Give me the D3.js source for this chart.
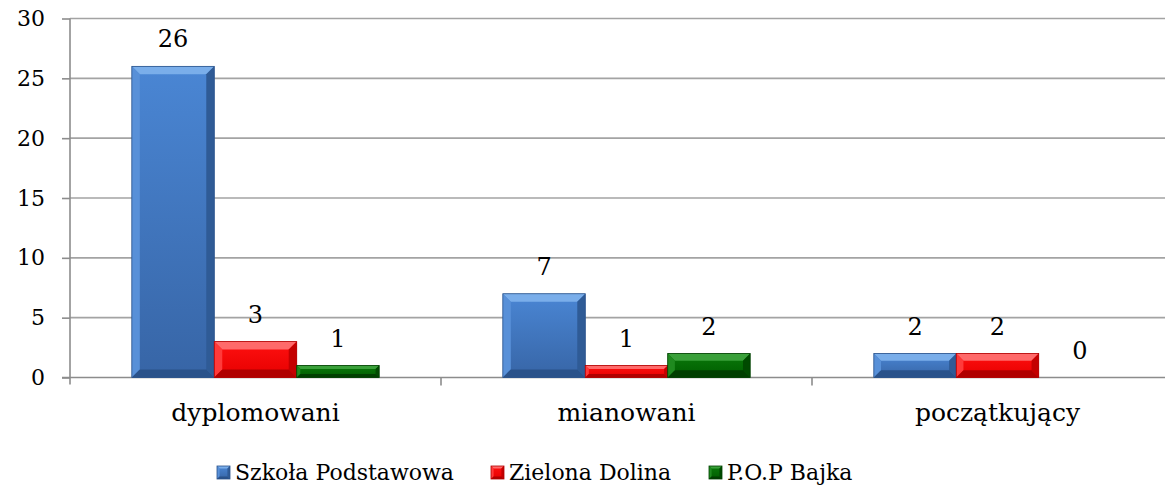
<!DOCTYPE html>
<html>
<head>
<meta charset="utf-8">
<script src="https://cdn.jsdelivr.net/npm/d3@7"></script>
<style>
  body { margin: 0; background: #fff; }
  text { font-family: "DejaVu Serif", serif; fill: #000; }
</style>
</head>
<body>
<div id="chart"></div>
<script>
// data
const categories = ["dyplomowani", "mianowani", "początkujący"];
const seriesNames = ["Szkoła Podstawowa", "Zielona Dolina", "P.O.P Bajka"];
const szkola  = [26, 7, 2];
const zielona = [3, 1, 2];
const bajka   = [1, 2, 0];
const yTicks  = [0, 5, 10, 15, 20, 25, 30];

const seriesValues = [szkola, zielona, bajka];

// colours per series: face top, face bottom, top bevel, left bevel, right bevel, bottom bevel
const palette = [
  {top: "#4a86d4", bot: "#3765a6", tb: "#7aaeea", lb: "#5890d8", rb: "#2f5b96", bb: "#2a528a"},
  {top: "#ff1010", bot: "#e60000", tb: "#ff6a6a", lb: "#ff3a3a", rb: "#c40000", bb: "#b00000"},
  {top: "#0a7a0a", bot: "#005c00", tb: "#3aa03a", lb: "#1f8a1f", rb: "#004a00", bb: "#003f00"}
];

const W = 1165, H = 488;
const plot = {left: 70, right: 1183, top: 18.5, bottom: 377.5};

const svg = d3.select("#chart").append("svg")
  .attr("width", W).attr("height", H);

const defs = svg.append("defs");
palette.forEach((p, i) => {
  const g = defs.append("linearGradient")
    .attr("id", "face" + i)
    .attr("x1", 0).attr("y1", 0).attr("x2", 0).attr("y2", 1);
  g.append("stop").attr("offset", "0%").attr("stop-color", p.top);
  g.append("stop").attr("offset", "100%").attr("stop-color", p.bot);
});

const x0 = d3.scaleBand()
  .domain(categories)
  .range([plot.left, plot.right])
  .paddingInner(0).paddingOuter(0);

const x1 = d3.scaleBand()
  .domain(seriesNames)
  .range([0, x0.bandwidth()])
  .paddingInner(0).paddingOuter(0.75);

const y = d3.scaleLinear()
  .domain([0, 30])
  .range([plot.bottom, plot.top]);

// gridlines
svg.append("g")
  .selectAll("line")
  .data(yTicks.filter(t => t > 0))
  .enter().append("line")
    .attr("x1", plot.left).attr("x2", W)
    .attr("y1", d => y(d)).attr("y2", d => y(d))
    .attr("stroke", "#a3a3a3")
    .attr("stroke-width", 1.6);

// y axis
const yAxis = svg.append("g")
  .attr("transform", `translate(${plot.left},0)`)
  .call(d3.axisLeft(y).tickValues(yTicks).tickSize(8).tickPadding(17).tickFormat(d3.format("d")));
yAxis.select(".domain")
  .attr("d", `M0,${plot.top}V${plot.bottom + 7}`)
  .attr("stroke", "#8c8c8c").attr("stroke-width", 1.6);
yAxis.selectAll(".tick line").attr("stroke", "#8c8c8c").attr("stroke-width", 1.6);
yAxis.selectAll(".tick text")
  .style("font-family", "'DejaVu Serif', serif")
  .style("font-size", "22px")
  .attr("fill", "#000");

// x axis baseline
svg.append("line")
  .attr("x1", plot.left - 8).attr("x2", W)
  .attr("y1", y(0)).attr("y2", y(0))
  .attr("stroke", "#8c8c8c").attr("stroke-width", 1.6);

// category boundary ticks
const bounds = categories.map(c => x0(c)).concat([x0.range()[1]]);
svg.append("g").selectAll("line")
  .data(bounds.slice(1))
  .enter().append("line")
    .attr("x1", d => d).attr("x2", d => d)
    .attr("y1", y(0)).attr("y2", y(0) + 8)
    .attr("stroke", "#8c8c8c").attr("stroke-width", 1.6);

// category labels
svg.append("g").selectAll("text")
  .data(categories)
  .enter().append("text")
    .attr("x", d => x0(d) + x0.bandwidth() / 2)
    .attr("y", y(0) + 43)
    .attr("text-anchor", "middle")
    .style("font-size", "25px")
    .text(d => d);

// bevelled bar
function bevelBar(g, x, yTop, w, h, si) {
  if (h <= 0) return;
  const p = palette[si];
  const b = Math.min(8, h * 0.3, w * 0.2);
  const x2 = x + w, yb = yTop + h;
  g.append("rect")
    .attr("x", x).attr("y", yTop).attr("width", w).attr("height", h)
    .attr("fill", `url(#face${si})`);
  const poly = (pts, fill) => g.append("polygon")
    .attr("points", pts.map(q => q.join(",")).join(" "))
    .attr("fill", fill);
  poly([[x, yTop], [x2, yTop], [x2 - b, yTop + b], [x + b, yTop + b]], p.tb);
  poly([[x, yTop], [x + b, yTop + b], [x + b, yb - b], [x, yb]], p.lb);
  poly([[x2, yTop], [x2 - b, yTop + b], [x2 - b, yb - b], [x2, yb]], p.rb);
  poly([[x, yb], [x + b, yb - b], [x2 - b, yb - b], [x2, yb]], p.bb);
  g.append("rect")
    .attr("x", x).attr("y", yTop).attr("width", w).attr("height", h)
    .attr("fill", "none").attr("stroke", p.bb).attr("stroke-width", 0.8);
}

// bars
const bars = svg.append("g");
categories.forEach((c, ci) => {
  seriesNames.forEach((s, si) => {
    const v = seriesValues[si][ci];
    bevelBar(bars, x0(c) + x1(s), y(v), x1.bandwidth(), y(0) - y(v), si);
  });
});

// value labels
const labels = svg.append("g");
categories.forEach((c, ci) => {
  seriesNames.forEach((s, si) => {
    const v = seriesValues[si][ci];
    labels.append("text")
      .attr("x", x0(c) + x1(s) + x1.bandwidth() / 2)
      .attr("y", y(v) - 19)
      .attr("text-anchor", "middle")
      .style("font-size", "24px")
      .text(v);
  });
});

// legend
const legendX = [217, 491, 709];
const legend = svg.append("g");
seriesNames.forEach((s, i) => {
  const g = legend.append("g").attr("transform", `translate(${legendX[i]},466)`);
  bevelBar(g, 0, 0, 13, 13, i);
  g.append("text")
    .attr("x", 18).attr("y", 14)
    .style("font-size", "22px")
    .text(s);
});
</script>
</body>
</html>
